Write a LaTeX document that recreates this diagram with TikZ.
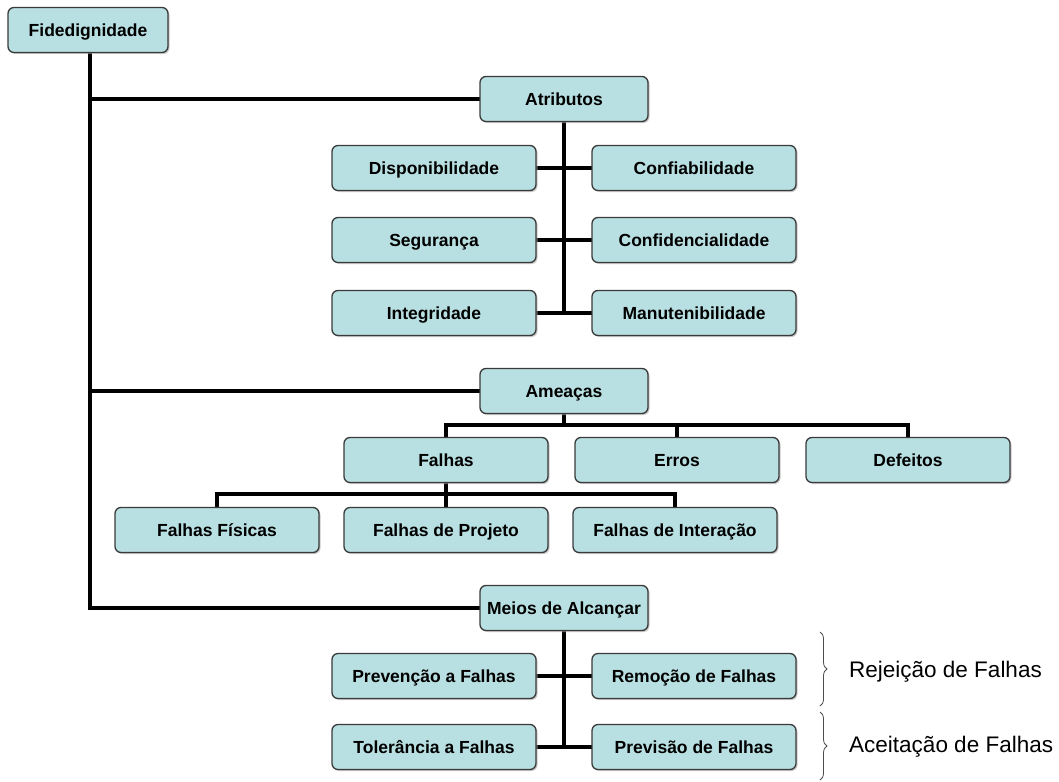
\documentclass[tikz,border=0pt]{standalone}
\usepackage{fontspec}
\setmainfont{Liberation Sans}
\usetikzlibrary{shadows,decorations.pathreplacing}
\pgfdeclarelayer{background}
\pgfsetlayers{background,main}
\definecolor{boxfill}{HTML}{B8DFE1}
\definecolor{boxline}{HTML}{3A3A3A}
\begin{document}
\begin{tikzpicture}[x=1pt,y=-1pt,
  box/.style={draw=boxline,line width=1.3pt,fill=boxfill,rounded corners=6pt,
    minimum height=45pt,inner sep=0pt,font=\fontsize{17.5}{19}\selectfont\bfseries,
    text height=12.6pt,text depth=0pt,
    drop shadow={shadow xshift=1.5pt,shadow yshift=-1.5pt,fill=black!35,opacity=0.6}},
  wA/.style={box,minimum width=160pt},
  wB/.style={box,minimum width=168pt},
  wC/.style={box,minimum width=204pt},
  conn/.style={line width=3.8pt,line cap=rect},
  lbl/.style={font=\fontsize{22.5}{26}\selectfont,anchor=west,inner sep=0pt},
  brace/.style={decorate,decoration={brace,amplitude=7pt},line width=0.8pt,draw=black!70}]
\useasboundingbox (0,0) rectangle (1059,781);
% nodes
\node[wA] (fid) at (88,30) {Fidedignidade};
\node[wB] (atr) at (564,99) {Atributos};
\node[wC] (disp) at (434,168) {Disponibilidade};
\node[wC] (conf) at (694,168) {Confiabilidade};
\node[wC] (seg) at (434,240) {Segurança};
\node[wC] (cfd) at (694,240) {Confidencialidade};
\node[wC] (integ) at (434,313) {Integridade};
\node[wC] (manu) at (694,313) {Manutenibilidade};
\node[wB] (ame) at (564,391) {Ameaças};
\node[wC] (falhas) at (446,460) {Falhas};
\node[wC] (erros) at (677,460) {Erros};
\node[wC] (def) at (908,460) {Defeitos};
\node[wC] (ffis) at (217,530) {Falhas Físicas};
\node[wC] (fproj) at (446,530) {Falhas de Projeto};
\node[wC] (fint) at (675,530) {Falhas de Interação};
\node[wB] (meios) at (564,608) {Meios de Alcançar};
\node[wC] (prev) at (434,676) {Prevenção a Falhas};
\node[wC] (rem) at (694,676) {Remoção de Falhas};
\node[wC] (tol) at (434,747) {Tolerância a Falhas};
\node[wC] (pvs) at (694,747) {Previsão de Falhas};
% coordinates
\coordinate (trunkTop) at (90,52);
\coordinate (trunkEnd) at (90,608);
\coordinate (jAtr) at (90,99);
\coordinate (jAme) at (90,391);
\coordinate (atrEnd) at (564,313);
\coordinate (ameBus) at (564,425);
\coordinate (falBus) at (446,494);
\coordinate (meiosEnd) at (564,747);
% connectors behind boxes
\begin{pgfonlayer}{background}
\draw[conn] (trunkTop) -- (trunkEnd) -- (meios.west);
\draw[conn] (jAtr) -- (atr.west);
\draw[conn] (jAme) -- (ame.west);
\draw[conn] (atr.south) -- (atrEnd);
\draw[conn] (disp.east) -- (conf.west);
\draw[conn] (seg.east) -- (cfd.west);
\draw[conn] (integ.east) -- (manu.west);
\draw[conn] (ame.south) -- (ameBus);
\draw[conn] (falhas.north) |- (ameBus) -| (def.north);
\draw[conn] (erros.north) -- (erros.north |- ameBus);
\draw[conn] (falhas.south) -- (falBus);
\draw[conn] (ffis.north) |- (falBus) -| (fint.north);
\draw[conn] (fproj.north) -- (falBus);
\draw[conn] (meios.south) -- (meiosEnd);
\draw[conn] (prev.east) -- (rem.west);
\draw[conn] (tol.east) -- (pvs.west);
\end{pgfonlayer}
% braces and labels
\coordinate (b1t) at (820,632);
\coordinate (b1b) at (820,706);
\coordinate (b2t) at (820,712);
\coordinate (b2b) at (820,780);
\draw[brace] (b1t) -- (b1b);
\draw[brace] (b2t) -- (b2b);
\node[lbl] (rej) at (849,672) {Rejeição de Falhas};
\node[lbl] (ace) at (849,747) {Aceitação de Falhas};
\end{tikzpicture}
\end{document}
